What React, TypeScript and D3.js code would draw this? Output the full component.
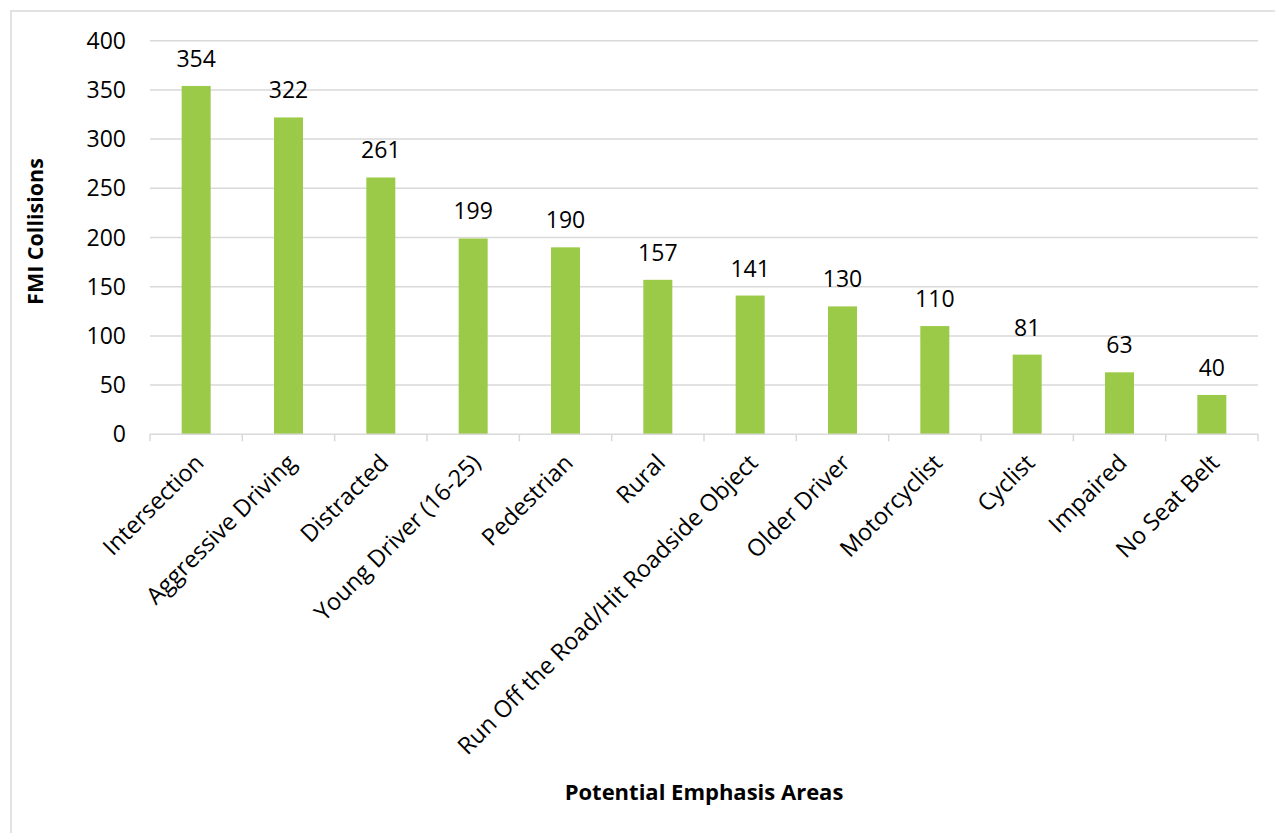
import React from "react";
import * as d3 from "d3";

const categories = [
  "Intersection",
  "Aggressive Driving",
  "Distracted",
  "Young Driver (16-25)",
  "Pedestrian",
  "Rural",
  "Run Off the Road/Hit Roadside Object",
  "Older Driver",
  "Motorcyclist",
  "Cyclist",
  "Impaired",
  "No Seat Belt",
];
const values = [354, 322, 261, 199, 190, 157, 141, 130, 110, 81, 63, 40];
const yTicks = [0, 50, 100, 150, 200, 250, 300, 350, 400];
const yTitle = "FMI Collisions";
const xTitle = "Potential Emphasis Areas";

const W = 1275;
const H = 833;
const left = 150;
const right = 1258;
const top = 40.7;
const bottom = 434.3;
const FONT = "'Open Sans', sans-serif";
const GREEN = "#9ACA47";
const GRID = "#d9d9d9";

export default function App() {
  const x = d3.scaleBand<string>().domain(categories).range([left, right]).padding(0);
  const y = d3.scaleLinear().domain([0, 400]).range([bottom, top]);
  const bw = x.bandwidth() * 0.314;
  return (
    <svg
      width={W}
      height={H}
      style={{ position: "absolute", left: 0, top: 0, background: "#fff" }}
      fontFamily={FONT}
    >
      <rect x={11} y={11} width={W} height={H} fill="#fff" stroke={GRID} strokeWidth={1.5} />
      {yTicks.map((t) =>
        t === 0 ? null : (
          <line key={"g" + t} x1={left} x2={right} y1={y(t)} y2={y(t)} stroke={GRID} strokeWidth={1.5} />
        )
      )}
      {yTicks.map((t) => (
        <text key={"yt" + t} x={126} y={y(t)} dy="0.35em" textAnchor="end" fontSize={23} fill="#000">
          {t}
        </text>
      ))}
      {categories.map((c, i) => {
        const cx = (x(c) as number) + x.bandwidth() / 2;
        return (
          <g key={c}>
            <rect x={cx - bw / 2} y={y(values[i])} width={bw} height={bottom - y(values[i])} fill={GREEN} />
            <text x={cx} y={y(values[i]) - 19} textAnchor="middle" fontSize={23} fill="#000">
              {values[i]}
            </text>
            <text
              transform={`translate(${cx - 3},${bottom + 18}) rotate(-45)`}
              textAnchor="end"
              dy="0.72em"
              fontSize={23.5}
              fill="#000"
            >
              {c}
            </text>
          </g>
        );
      })}
      <line x1={left} x2={right} y1={bottom} y2={bottom} stroke={GRID} strokeWidth={1.5} />
      {d3.range(categories.length + 1).map((i) => {
        const tx = left + i * x.step();
        return <line key={"t" + i} x1={tx} x2={tx} y1={bottom} y2={bottom + 7} stroke={GRID} strokeWidth={1.5} />;
      })}
      <text
        transform={`translate(35,231.5) rotate(-90)`}
        textAnchor="middle"
        dy="0.35em"
        fontSize={21.5}
        fontWeight="bold"
        fill="#000"
      >
        {yTitle}
      </text>
      <text x={704} y={792} textAnchor="middle" dy="0.35em" fontSize={22} fontWeight="bold" fill="#000">
        {xTitle}
      </text>
    </svg>
  );
}
